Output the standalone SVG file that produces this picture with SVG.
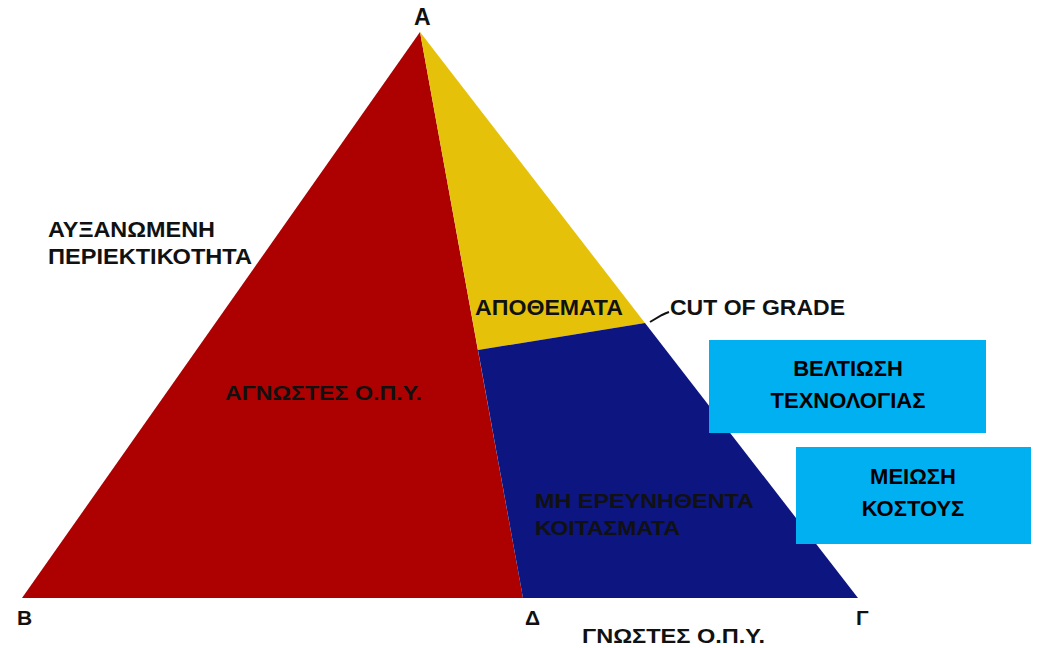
<svg xmlns="http://www.w3.org/2000/svg" width="1038" height="648" viewBox="0 0 1038 648">
<style>
.lbl{font-family:"Liberation Sans",Arial,sans-serif;font-weight:bold;fill:#111;}
.box{fill:#00B0F0;}
.boxtxt{font-family:"Liberation Sans",Arial,sans-serif;font-weight:bold;font-size:22px;fill:#000;text-anchor:middle;}
</style>
<rect width="1038" height="648" fill="#fff"/>
<g id="region-unknown">
<polygon points="420,32 22,598 523,598" fill="#AD0000"/>
<text class="lbl" x="225" y="400" font-size="21" textLength="197" lengthAdjust="spacingAndGlyphs" fill="#1a0000">ΑΓΝΩΣΤΕΣ Ο.Π.Υ.</text>
</g>
<g id="region-reserves">
<polygon points="420,32 478,350 645,323" fill="#E6C10A"/>
<text class="lbl" x="475" y="315" font-size="22" textLength="148" lengthAdjust="spacingAndGlyphs">ΑΠΟΘΕΜΑΤΑ</text>
</g>
<g id="region-unexplored">
<polygon points="478,350 645,323 858,598 523,598" fill="#0C1580"/>
<text class="lbl" x="535" y="508" font-size="21" textLength="219" lengthAdjust="spacingAndGlyphs" fill="#050505">ΜΗ ΕΡΕΥΝΗΘΕΝΤΑ</text>
<text class="lbl" x="535" y="535" font-size="21" textLength="145" lengthAdjust="spacingAndGlyphs" fill="#050505">ΚΟΙΤΑΣΜΑΤΑ</text>
</g>
<g id="connectors">
<path d="M650,322 L662,315 Q666,313 669,312" fill="none" stroke="#111" stroke-width="2"/>
</g>
<g id="label-grade">
<text class="lbl" x="48" y="237" font-size="22" textLength="167" lengthAdjust="spacingAndGlyphs">ΑΥΞΑΝΩΜΕΝΗ</text>
<text class="lbl" x="48" y="264" font-size="22" textLength="204" lengthAdjust="spacingAndGlyphs">ΠΕΡΙΕΚΤΙΚΟΤΗΤΑ</text>
</g>
<g id="label-cut">
<text class="lbl" x="670" y="315" font-size="22" textLength="175" lengthAdjust="spacingAndGlyphs">CUT OF GRADE</text>
</g>
<g id="vertex-labels">
<text class="lbl" x="414" y="25" font-size="23">Α</text>
<text class="lbl" x="17" y="625" font-size="21">Β</text>
<text class="lbl" x="525" y="625" font-size="21">Δ</text>
<text class="lbl" x="856" y="625" font-size="21">Γ</text>
<text class="lbl" x="582" y="643" font-size="21" textLength="183" lengthAdjust="spacingAndGlyphs">ΓΝΩΣΤΕΣ Ο.Π.Υ.</text>
</g>
<g id="box-technology">
<rect class="box" x="709" y="340" width="277" height="93"/>
<text class="boxtxt" x="848" y="376">ΒΕΛΤΙΩΣΗ</text>
<text class="boxtxt" x="848" y="408">ΤΕΧΝΟΛΟΓΙΑΣ</text>
</g>
<g id="box-cost">
<rect class="box" x="796" y="447" width="235" height="97"/>
<text class="boxtxt" x="913" y="484">ΜΕΙΩΣΗ</text>
<text class="boxtxt" x="913" y="516">ΚΟΣΤΟΥΣ</text>
</g>
</svg>
